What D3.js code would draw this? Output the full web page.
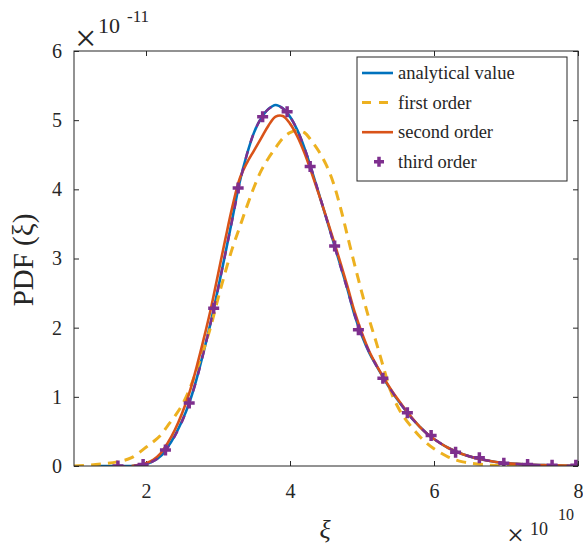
<!DOCTYPE html>
<html>
<head>
<meta charset="utf-8">
<script src="https://cdn.jsdelivr.net/npm/d3@7"></script>
<style>
  body { margin: 0; background: #fff; }
  svg { display: block; }
  text { font-family: "Liberation Serif", "Times New Roman", serif; fill: #262626; }
</style>
</head>
<body>
<div id="chart"></div>
<script>
// xi grid (x 1e10) shared by the curves
const xi = [1.0,1.3,1.6,1.8,2.0,2.1,2.2,2.3,2.4,2.5,2.6,2.7,2.8,2.9,3.0,3.1,3.2,3.3,3.4,3.5,3.6,3.7,3.8,3.9,
            4.0,4.1,4.2,4.3,4.4,4.5,4.6,4.7,4.8,4.9,5.0,5.1,5.2,5.3,5.4,5.5,5.6,5.7,5.8,5.9,6.0,6.2,6.4,6.6,6.8,7.0,7.3,7.6,8.0];

// PDF values (x 1e-11), null = not plotted
const analytical = [null,0.00,0.00,0.00,0.03,0.07,0.14,0.27,0.44,0.65,0.91,1.25,1.65,2.08,2.56,3.06,3.58,4.10,4.50,4.82,5.03,5.16,5.22,5.17,
                    5.05,4.86,4.60,4.28,3.94,3.60,3.25,2.90,2.55,2.17,1.88,1.64,1.45,1.27,1.10,0.95,0.81,0.68,0.57,0.47,0.39,0.26,0.17,0.11,0.07,0.04,0.02,0.01,0.00];
const firstOrder = [0.00,0.02,0.06,0.12,0.27,0.35,0.44,0.58,0.72,0.88,1.10,1.38,1.68,2.02,2.42,2.80,3.15,3.45,3.75,4.03,4.27,4.45,4.60,4.74,
                    4.82,4.85,4.82,4.70,4.55,4.36,4.10,3.74,3.32,2.90,2.50,2.12,1.78,1.42,1.08,0.85,0.68,0.55,0.43,0.33,0.25,0.13,0.06,0.03,0.01,0.00,0.00,0.00,0.00];
const secondOrder = [null,null,null,0.00,0.04,0.09,0.18,0.33,0.52,0.76,1.05,1.42,1.83,2.27,2.77,3.27,3.75,4.15,4.38,4.56,4.74,4.92,5.05,5.06,
                     4.95,4.77,4.53,4.24,3.93,3.61,3.28,2.94,2.59,2.22,1.92,1.66,1.46,1.28,1.11,0.96,0.82,0.69,0.57,0.47,0.39,0.26,0.17,0.11,0.07,0.04,0.02,0.01,0.00];
const thirdOrder = [null,null,0.00,0.00,0.03,0.07,0.14,0.26,0.43,0.64,0.91,1.24,1.64,2.08,2.56,3.06,3.57,4.08,4.50,4.82,5.03,5.16,5.21,5.17,
                    5.05,4.86,4.60,4.29,3.95,3.60,3.24,2.89,2.54,2.18,1.89,1.65,1.45,1.27,1.10,0.95,0.81,0.68,0.57,0.47,0.39,0.26,0.17,0.11,0.07,0.04,0.02,0.01,0.00];

// third order '+' markers
const markX = [1.61,1.96,2.27,2.60,2.94,3.28,3.62,3.96,4.28,4.62,4.95,5.29,5.63,5.96,6.30,6.63,6.97,7.30,7.64,7.97];
const markY = [0.00,0.02,0.23,0.91,2.28,4.02,5.05,5.12,4.33,3.18,1.97,1.27,0.77,0.44,0.20,0.12,0.04,0.02,0.01,0.01];

const xTicks = [2,4,6,8];
const yTicks = [0,1,2,3,4,5,6];
const legendNames = ["analytical value","first order","second order","third order"];

const W = 583, H = 552;
const margin = { top: 51, right: 5, bottom: 86, left: 74 };
const width = W - margin.left - margin.right;
const height = H - margin.top - margin.bottom;

const svg = d3.select("#chart").append("svg")
  .attr("width", W).attr("height", H);
const g = svg.append("g").attr("transform", `translate(${margin.left},${margin.top})`);

const x = d3.scaleLinear().domain([1, 8]).range([0, width]);
const y = d3.scaleLinear().domain([0, 6]).range([height, 0]);

const axisColor = "#262626";

// axes (ticks pointing inward, MATLAB style)
const xAxis = g.append("g").attr("transform", `translate(0,${height})`)
  .call(d3.axisBottom(x).tickValues(xTicks).tickSize(-5).tickSizeOuter(0).tickPadding(18).tickFormat(d3.format("d")));
const yAxis = g.append("g")
  .call(d3.axisLeft(y).tickValues(yTicks).tickSize(-5).tickSizeOuter(0).tickPadding(12).tickFormat(d3.format("d")));
const xTop = g.append("g")
  .call(d3.axisTop(x).tickValues(xTicks).tickSize(-5).tickSizeOuter(0).tickFormat(""));
const yRight = g.append("g").attr("transform", `translate(${width},0)`)
  .call(d3.axisRight(y).tickValues(yTicks).tickSize(-5).tickSizeOuter(0).tickFormat(""));

[xAxis, yAxis, xTop, yRight].forEach(a => {
  a.select(".domain").remove();
  a.selectAll(".tick line").attr("stroke", axisColor);
  a.selectAll(".tick text").style("font-size", "20px").style("font-family", "Liberation Serif, serif").attr("fill", axisColor);
});

// curves
g.append("clipPath").attr("id", "clip").append("rect").attr("width", width).attr("height", height + 2).attr("y", -2);
const plot = g.append("g").attr("clip-path", "url(#clip)");

function lineFor(vals) {
  return d3.line()
    .defined((d, i) => vals[i] !== null)
    .x((d, i) => x(xi[i]))
    .y((d, i) => y(vals[i]))
    .curve(d3.curveCatmullRom)(xi);
}

const series = [
  { vals: analytical, color: "#0072BD", w: 2.6, dash: null },
  { vals: firstOrder, color: "#EDB120", w: 3, dash: "10,7" },
  { vals: secondOrder, color: "#D95319", w: 2.6, dash: null },
  { vals: thirdOrder, color: "#7E2F8E", w: 2.4, dash: "8,9" }
];

series.forEach(s => {
  plot.append("path")
    .attr("d", lineFor(s.vals))
    .attr("fill", "none")
    .attr("stroke", s.color)
    .attr("stroke-width", s.w)
    .attr("stroke-dasharray", s.dash);
});

function plus(sel, cx, cy, r) {
  sel.append("path")
    .attr("d", `M${cx - r},${cy}H${cx + r}M${cx},${cy - r}V${cy + r}`)
    .attr("stroke", "#7E2F8E").attr("stroke-width", 3.5).attr("fill", "none");
}
markX.forEach((mx, i) => plus(plot, x(mx), y(markY[i]), 5.5));

// box
g.append("rect").attr("width", width).attr("height", height)
  .attr("fill", "none").attr("stroke", axisColor).attr("stroke-width", 1);

// legend
const leg = svg.append("g").attr("transform", "translate(357,57)");
leg.append("rect").attr("width", 210).attr("height", 124)
  .attr("fill", "#fff").attr("stroke", axisColor).attr("stroke-width", 1);
legendNames.forEach((name, i) => {
  const ly = 16 + i * 29.6;
  const s = series[i];
  if (i < 3) {
    leg.append("line").attr("x1", 5).attr("x2", 36).attr("y1", ly).attr("y2", ly)
      .attr("stroke", s.color).attr("stroke-width", s.w)
      .attr("stroke-dasharray", i === 1 ? "9,8" : null);
  } else {
    plus(leg, 22, ly, 5);
  }
  leg.append("text").attr("x", 41).attr("y", ly + 6)
    .style("font-size", "18.5px").text(name);
});

// axis labels
svg.append("text")
  .attr("transform", "translate(33,260) rotate(-90)")
  .attr("text-anchor", "middle")
  .style("font-size", "29px")
  .text("PDF (ξ)");

svg.append("text")
  .attr("x", 325).attr("y", 538)
  .attr("text-anchor", "middle")
  .style("font-size", "26px").style("font-style", "italic")
  .text("ξ");

// exponent labels
svg.append("text").attr("x", 75).attr("y", 51).style("font-size", "38px").text("×");
svg.append("text").attr("x", 98).attr("y", 33).style("font-size", "22px").text("10");
svg.append("text").attr("x", 127).attr("y", 22).style("font-size", "17px").text("-11");

svg.append("text").attr("x", 507).attr("y", 545).style("font-size", "30px").text("×");
svg.append("text").attr("x", 530).attr("y", 535).style("font-size", "18px").text("10");
svg.append("text").attr("x", 558).attr("y", 520).style("font-size", "16px").text("10");
</script>
</body>
</html>
